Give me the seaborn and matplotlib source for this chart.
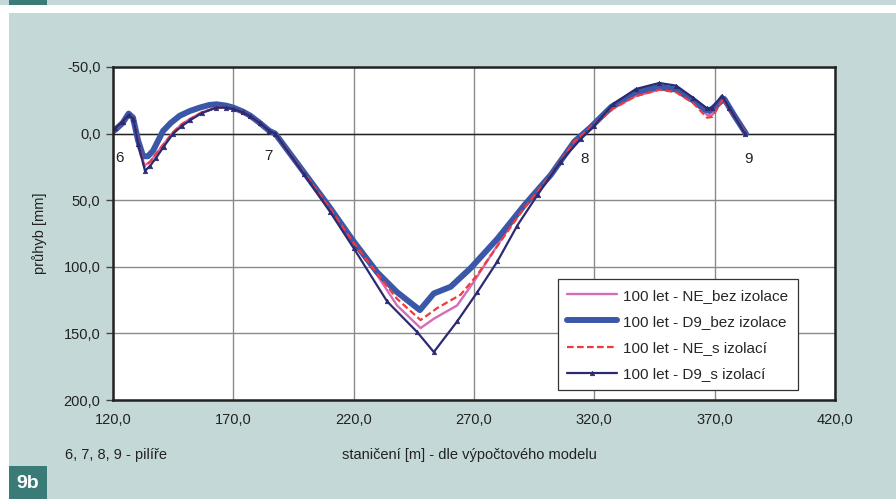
import matplotlib
matplotlib.use("Agg")
import matplotlib.pyplot as plt
import seaborn as sns
import pandas as pd
from matplotlib.patches import Rectangle
from matplotlib.ticker import FuncFormatter

# ---------------- data ----------------
labels = ["100 let - NE_bez izolace", "100 let - D9_bez izolace",
          "100 let - NE_s izolací", "100 let - D9_s izolací"]

ne_bez_x = [117.5, 121, 124, 126.5, 128.5, 130.5, 133, 135.5, 138, 141, 145, 148.5, 152, 157, 163, 167,
            170, 174, 177, 181, 185, 187.4, 199.2, 210.3, 220, 229.7, 238, 247.8, 253.3, 263, 270,
            279.7, 290.8, 301.9, 311.7, 318.6, 328, 337, 347, 354, 361, 366.8, 369, 373.5, 377, 383]
ne_bez_y = [1.5, -3.5, -8.5, -14, -11, 6, 24, 21, 15, 8, -1, -7, -11, -16, -19.5, -19.5,
            -18.5, -16, -13, -8, -2, 0, 29, 56.5, 82, 106, 129, 146, 139, 129, 111,
            84, 54, 31, 6, -5, -19, -28, -33, -32, -24, -14, -14, -25, -16, 0]

d9_bez_x = [117.5, 121, 124, 126.5, 128.3, 130.4, 132.5, 134.5, 136.6, 140.8, 144, 147.8, 152, 156,
            160, 163, 167, 170, 174, 177, 181, 185, 187.4, 199.2, 210.3, 220, 229.7, 238, 247.5,
            253.3, 260.3, 268.6, 279.7, 290.8, 301.9, 311.7, 318.6, 327, 337, 347, 354, 361, 366,
            368, 371, 374, 378, 383]
d9_bez_y = [1.5, -3, -8, -15, -12, 5, 17, 17, 13, -2, -8, -13.5, -17, -19.5,
            -21.5, -22, -21, -19.5, -16.5, -13.5, -8, -2, 0, 28.75, 56, 81, 104, 119, 132.5,
            120, 115, 101, 79, 54, 31, 6, -5, -20, -31, -35, -33, -25, -18,
            -17, -22, -26, -14, 0]

ne_s_x = [117.5, 121, 124, 126.5, 128.5, 130.5, 133, 135.5, 138, 141, 145, 148.5, 152, 157, 163, 167,
          170, 174, 177, 181, 185, 187.4, 199.2, 210.3, 220, 229.7, 238, 247.8, 254.7, 264.4, 271.4,
          281, 290.8, 301.9, 311.7, 318.6, 328, 337, 347, 354, 361, 366.8, 369, 373.5, 377, 383]
ne_s_y = [1.5, -3.5, -8.5, -14, -11, 6, 25, 21, 15, 8, -1, -7, -11, -16, -19.5, -19.5,
          -18.5, -16, -13, -8, -2, 0, 29, 56.5, 82, 105, 124, 140, 131, 121, 106,
          81, 56, 31, 6, -5, -19, -28, -33, -31, -23, -12, -12.5, -26, -16, 0]

d9_s_x = [117.5, 121, 124, 126.5, 128.5, 130.5, 133.3, 135.5, 138, 141, 145, 148.5, 152, 157, 163, 167,
          170, 174, 177, 181, 185, 187.4, 199.2, 210.3, 220, 233.9, 246.4, 253.3, 263, 271.4,
          279.7, 288, 296.4, 306, 314.4, 320, 327.7, 337.3, 347, 354, 361, 366.8, 369, 373, 376,
          382.6]
d9_s_y = [1.5, -4, -9, -14, -11, 8, 28, 24, 18, 10, 0, -5.5, -10, -15.5, -19.5, -19.5,
          -18.5, -16, -13, -8, -2, 0, 30, 59, 86, 126, 149, 164, 141, 119,
          96, 69, 46, 21, 4, -6, -22, -33.5, -38, -36, -27, -19, -19.5, -28.5, -19.5,
          0]

pier_labels = ["6", "7", "8", "9"]
pier_x = [122.5, 184.5, 316.0, 384.0]
pier_y = [18, 17, 19, 19]

x_ticks = [120, 170, 220, 270, 320, 370, 420]
y_ticks = [-50, 0, 50, 100, 150, 200]

# ---------------- styling ----------------
BG = "#c5d8d8"
TEAL = "#3a7b78"
sns.set_theme(style="white")
plt.rcParams["font.family"] = ["Liberation Sans", "DejaVu Sans"]

fig = plt.figure(figsize=(8.96, 4.99), dpi=100, facecolor="white")
W, H = 896, 499


def frect(x0, y0, x1, y1, color):
    fig.patches.append(Rectangle((x0 / W, 1 - y1 / H), (x1 - x0) / W, (y1 - y0) / H,
                                 transform=fig.transFigure, facecolor=color,
                                 edgecolor="none", zorder=-10))


frect(0, 0, W, 5, BG)
frect(9, 0, 47, 5, TEAL)
frect(9, 13, W, H, BG)
frect(9, 466, 47, H, TEAL)
fig.text(28 / W, 1 - 483 / H, "9b", color="white", fontsize=14, fontweight="bold",
         ha="center", va="center")

ax = fig.add_axes([113 / W, 1 - 400 / H, 722 / W, 333 / H])
ax.set_facecolor("white")

NAVY = "#2b2a72"
series = [
    (ne_bez_x, ne_bez_y, labels[0], dict(color="#d46cb8", linewidth=1.7)),
    (d9_bez_x, d9_bez_y, labels[1], dict(color="#3b58a8", linewidth=4.3)),
    (ne_s_x, ne_s_y, labels[2], dict(color="#f03a3a", linewidth=1.6, linestyle=(0, (3, 1.5)))),
    (d9_s_x, d9_s_y, labels[3], dict(color=NAVY, linewidth=1.6, marker="^",
                                     markersize=3.2, markeredgecolor=NAVY,
                                     markerfacecolor=NAVY, markeredgewidth=0.5)),
]
for xs, ys, lab, kw in series:
    df = pd.DataFrame({"x": xs, "y": ys})
    sns.lineplot(data=df, x="x", y="y", sort=False, estimator=None, ax=ax, label=lab, **kw)

ax.set_xlim(120, 420)
ax.set_ylim(200, -50)
ax.set_xticks(x_ticks)
ax.set_yticks(y_ticks)
fmt = FuncFormatter(lambda v, p: f"{v:.1f}".replace(".", ","))
ax.xaxis.set_major_formatter(fmt)
ax.yaxis.set_major_formatter(fmt)
ax.grid(True, color="#8a8a8a", linewidth=1.0)
ax.set_axisbelow(True)
ax.axhline(0, color="#222222", linewidth=1.0, zorder=1)
for s in ax.spines.values():
    s.set_color("#222222")
    s.set_linewidth(1.8)
    s.set_visible(True)
ax.tick_params(axis="y", which="major", left=True, length=5, width=1, color="#444444",
               labelsize=10.5, labelcolor="#222222", pad=4)
ax.tick_params(axis="x", which="major", bottom=False, length=0, labelsize=10.5,
               labelcolor="#222222", pad=9)
ax.set_xlabel("")
ax.set_ylabel("průhyb [mm]", fontsize=10.5, color="#222222", labelpad=12)

for t, px, py in zip(pier_labels, pier_x, pier_y):
    ax.text(px, py, t, fontsize=11, color="#222222", ha="center", va="center")

fig.text(65 / W, 1 - 455 / H, "6, 7, 8, 9 - pilíře", fontsize=10.5, color="#222222",
         ha="left", va="center")
fig.text(469 / W, 1 - 455 / H, "staničení [m] - dle výpočtového modelu", fontsize=10.5,
         color="#222222", ha="center", va="center")

leg = ax.legend(loc="upper left", bbox_to_anchor=(0.616, 0.362), borderaxespad=0,
                frameon=True, fancybox=False, edgecolor="#333333", facecolor="white",
                framealpha=1, fontsize=11, handlelength=3.3, borderpad=0.6,
                labelspacing=0.8, handletextpad=0.4)
leg.get_frame().set_linewidth(0.9)

fig.savefig("out.png", dpi=100, facecolor=fig.get_facecolor())
